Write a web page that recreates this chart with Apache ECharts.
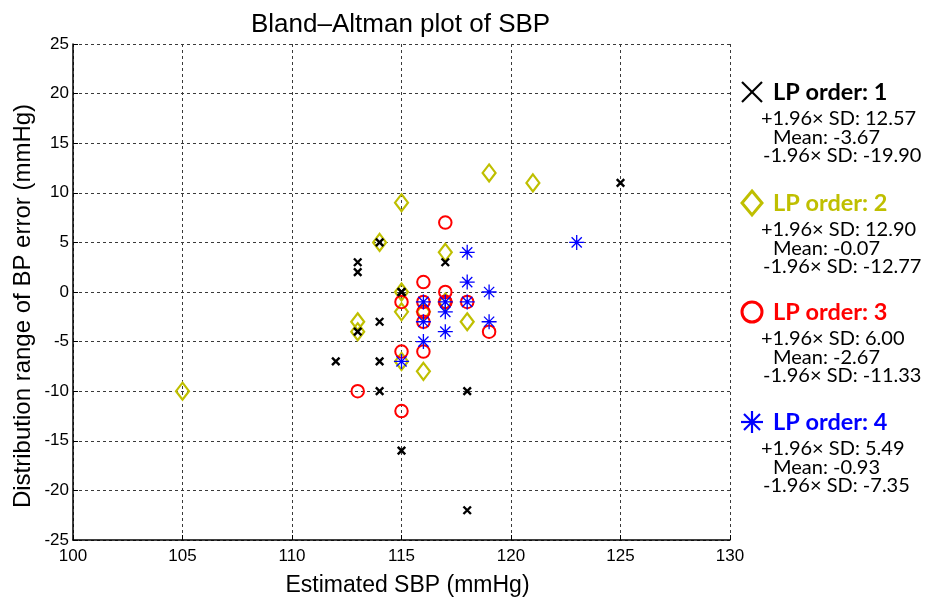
<!DOCTYPE html>
<html>
<head>
<meta charset="utf-8">
<title>Bland–Altman plot of SBP</title>
<script src="https://cdn.jsdelivr.net/npm/echarts@6/dist/echarts.min.js"></script>
<style>
  html, body { margin: 0; padding: 0; background: #fff; }
  #chart { width: 935px; height: 602px; }
</style>
</head>
<body>
<div id="chart"></div>
<script>
// Estimated SBP (mmHg) vs. BP error (mmHg) for each LP order
const lp1 = [[113, 3], [113, 2], [114, 5], [117, 3], [115, 0], [115, 0], [114, -3], [113, -4],
             [112, -7], [114, -7], [114, -10], [118, -10], [115, -16], [118, -22], [125, 11]];
const lp2 = [[119, 12], [121, 11], [115, 9], [114, 5], [117, 4], [115, 0], [117, -1], [115, -2],
             [116, -2], [118, -3], [113, -3], [113, -4], [115, -7], [116, -8], [105, -10]];
const lp3 = [[117, 7], [116, 1], [117, 0], [115, -1], [116, -1], [117, -1], [117, -1], [118, -1],
             [116, -2], [116, -3], [119, -4], [115, -6], [116, -6], [113, -10], [115, -12]];
const lp4 = [[118, 4], [118, 1], [119, 0], [116, -1], [117, -1], [118, -1], [117, -2], [116, -3],
             [119, -3], [117, -4], [116, -5], [115, -7], [123, 5]];

// Legend statistics per LP order
const lpNames = ['LP order: 1', 'LP order: 2', 'LP order: 3', 'LP order: 4'];
const sdUpper = ['12.57', '12.90', '6.00', '5.49'];
const sdMean = ['-3.67', '-0.07', '-2.67', '-0.93'];
const sdLower = ['-19.90', '-12.77', '-11.33', '-7.35'];

// Axis ranges
const xRange = { min: 100, max: 130, step: 5 };
const yRange = { min: -25, max: 25, step: 5 };

const colors = ['#000000', '#bfbf00', '#ff0000', '#0000ff'];
const crossPath = 'path://M0,0L10,10M10,0L0,10';
const starPath = 'path://M5,0L5,10M0,5L10,5M1.6,1.6L8.4,8.4M8.4,1.6L1.6,8.4';

const chart = echarts.init(document.getElementById('chart'), null, { renderer: 'canvas' });

const sansFont = 'Liberation Sans, Arial, sans-serif';
const gridStyle = { show: true, lineStyle: { color: '#3a3a3a', width: 1, type: [3, 3] } };
const tickFont = { color: '#000', fontSize: 17, fontFamily: sansFont };

function legendBlock(i, top) {
  const c = colors[i];
  const mx = 752, my = top;
  let marker;
  if (i === 0) {
    marker = { type: 'group', children: [
      { type: 'line', shape: { x1: mx - 10, y1: my - 10, x2: mx + 10, y2: my + 10 }, style: { stroke: c, lineWidth: 2.2 } },
      { type: 'line', shape: { x1: mx + 10, y1: my - 10, x2: mx - 10, y2: my + 10 }, style: { stroke: c, lineWidth: 2.2 } }
    ] };
  } else if (i === 1) {
    marker = { type: 'polygon', shape: { points: [[mx, my - 12], [mx + 10, my], [mx, my + 12], [mx - 10, my]] },
      style: { stroke: c, fill: 'none', lineWidth: 3 } };
  } else if (i === 2) {
    marker = { type: 'circle', shape: { cx: mx, cy: my, r: 10 },
      style: { stroke: c, fill: 'none', lineWidth: 3 } };
  } else {
    marker = { type: 'group', children: [
      { type: 'line', shape: { x1: mx, y1: my - 11, x2: mx, y2: my + 11 }, style: { stroke: c, lineWidth: 2.2 } },
      { type: 'line', shape: { x1: mx - 11, y1: my, x2: mx + 11, y2: my }, style: { stroke: c, lineWidth: 2.2 } },
      { type: 'line', shape: { x1: mx - 8, y1: my - 8, x2: mx + 8, y2: my + 8 }, style: { stroke: c, lineWidth: 2.2 } },
      { type: 'line', shape: { x1: mx + 8, y1: my - 8, x2: mx - 8, y2: my + 8 }, style: { stroke: c, lineWidth: 2.2 } }
    ] };
  }
  const fam = 'Lato, "Open Sans", sans-serif';
  return [
    marker,
    { type: 'text', x: 773, y: top, style: { text: lpNames[i], fill: c, font: 'bold 23.5px ' + fam, textVerticalAlign: 'middle' } },
    { type: 'text', x: 761, y: top + 27, style: { text: '+1.96\u00d7 SD: ' + sdUpper[i], fill: '#000', font: '20px ' + fam, textVerticalAlign: 'middle' } },
    { type: 'text', x: 773, y: top + 46, style: { text: 'Mean: ' + sdMean[i], fill: '#000', font: '20px ' + fam, textVerticalAlign: 'middle' } },
    { type: 'text', x: 763, y: top + 64, style: { text: '-1.96\u00d7 SD: ' + sdLower[i], fill: '#000', font: '20px ' + fam, textVerticalAlign: 'middle' } }
  ];
}

const legendTops = [92, 203, 312, 422];
let legendGraphics = [];
legendTops.forEach((t, i) => { legendGraphics = legendGraphics.concat(legendBlock(i, t)); });

// Vertical axis title
legendGraphics.push({
  type: 'text', x: 23, y: 306, rotation: Math.PI / 2,
  style: { text: 'Distribution range of BP error (mmHg)', fill: '#000', font: '24px ' + sansFont,
    textAlign: 'center', textVerticalAlign: 'middle' }
});

const option = {
  animation: false,
  backgroundColor: '#fff',
  title: {
    text: 'Bland\u2013Altman plot of SBP',
    left: 246, top: 7,
    textStyle: { color: '#000', fontSize: 26, fontWeight: 'normal', fontFamily: sansFont }
  },
  grid: { left: 73, top: 44, width: 657, height: 497, containLabel: false },
  xAxis: {
    type: 'value', min: xRange.min, max: xRange.max, interval: xRange.step,
    name: 'Estimated SBP (mmHg)', nameLocation: 'middle', nameGap: 34,
    nameTextStyle: { color: '#000', fontSize: 23, fontFamily: sansFont, padding: [0, 0, 0, 12] },
    axisLine: { show: true, onZero: false, lineStyle: { color: '#000', width: 1.5 } },
    axisTick: { show: true, inside: true, length: 5, lineStyle: { color: '#000' } },
    axisLabel: Object.assign({ margin: 8 }, tickFont),
    splitLine: gridStyle
  },
  yAxis: {
    type: 'value', min: yRange.min, max: yRange.max, interval: yRange.step,
    axisLine: { show: true, onZero: false, lineStyle: { color: '#000', width: 1.5 } },
    axisTick: { show: true, inside: true, length: 5, lineStyle: { color: '#000' } },
    axisLabel: Object.assign({ margin: 4 }, tickFont),
    splitLine: gridStyle
  },
  series: [
    { name: lpNames[1], type: 'scatter', data: lp2, z: 2, symbol: 'diamond', symbolSize: [13, 17],
      itemStyle: { color: 'rgba(0,0,0,0)', borderColor: colors[1], borderWidth: 2.2, opacity: 1 } },
    { name: lpNames[2], type: 'scatter', data: lp3, z: 3, symbol: 'circle', symbolSize: 12.5,
      itemStyle: { color: 'rgba(0,0,0,0)', borderColor: colors[2], borderWidth: 2, opacity: 1 } },
    { name: lpNames[3], type: 'scatter', data: lp4, z: 4, symbol: starPath, symbolSize: 15,
      itemStyle: { color: 'rgba(0,0,0,0)', borderColor: colors[3], borderWidth: 1.3, opacity: 1 } },
    { name: lpNames[0], type: 'scatter', data: lp1, z: 5, symbol: crossPath, symbolSize: 7.5,
      itemStyle: { color: 'rgba(0,0,0,0)', borderColor: colors[0], borderWidth: 2.4, opacity: 1 } }
  ],
  graphic: legendGraphics
};

chart.setOption(option);
</script>
</body>
</html>
